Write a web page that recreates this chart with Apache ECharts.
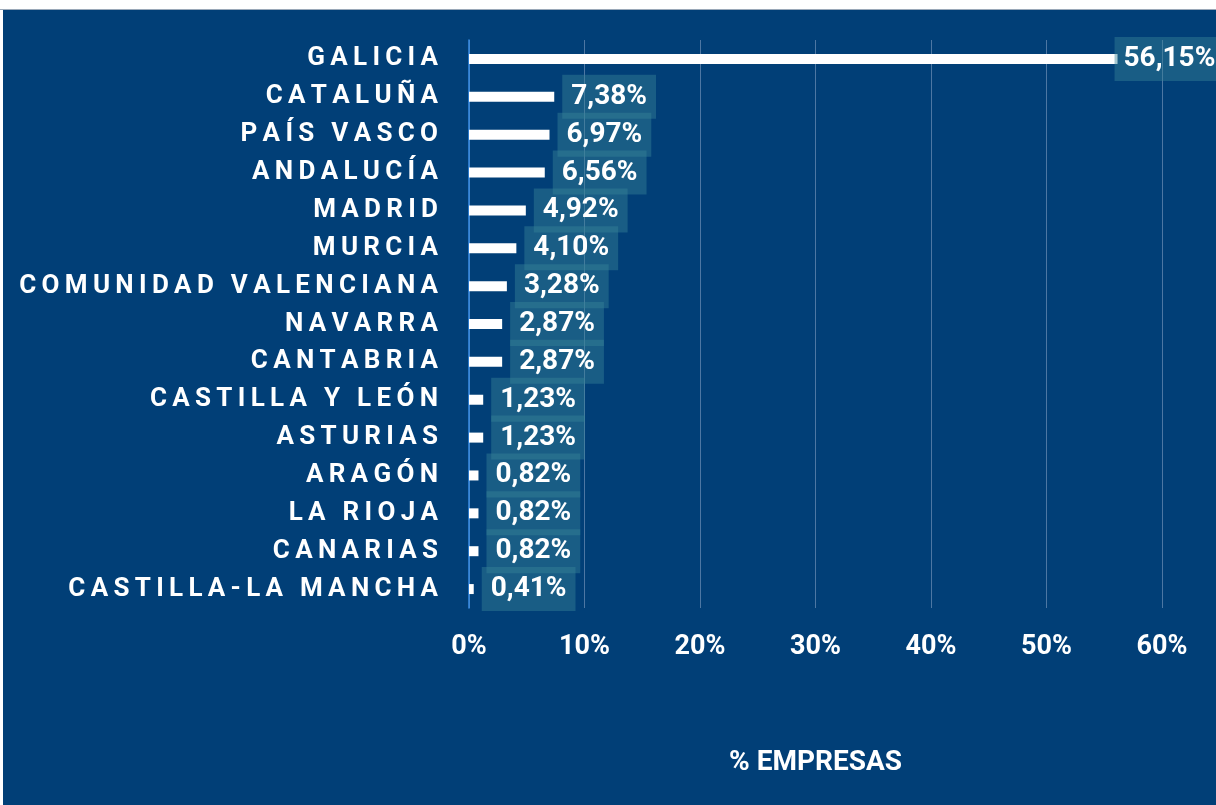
<!DOCTYPE html>
<html>
<head>
<meta charset="utf-8">
<script src="https://cdn.jsdelivr.net/npm/echarts@6/dist/echarts.min.js"></script>
<style>
  html, body { margin: 0; padding: 0; background: #fff; }
  #chart { width: 1216px; height: 805px; }
</style>
</head>
<body>
<div id="chart"></div>
<script>
// regiones y % de empresas
var regiones = ['GALICIA', 'CATALUÑA', 'PAÍS VASCO', 'ANDALUCÍA', 'MADRID', 'MURCIA',
  'COMUNIDAD VALENCIANA', 'NAVARRA', 'CANTABRIA', 'CASTILLA Y LEÓN', 'ASTURIAS',
  'ARAGÓN', 'LA RIOJA', 'CANARIAS', 'CASTILLA-LA MANCHA'];
var porcentajes = [56.15, 7.38, 6.97, 6.56, 4.92, 4.10, 3.28, 2.87, 2.87, 1.23, 1.23, 0.82, 0.82, 0.82, 0.41];
var ejeMax = 60;
var ejeIntervalo = 10;

var fondo = '#013f77';
var fuente = 'Roboto, "DejaVu Sans", sans-serif';

// espaciado entre letras (la etiqueta original va espaciada)
function espaciar(s) {
  return s.split('').join('\u2009');
}

var datos = porcentajes.map(function (v, i) {
  var item = { value: v };
  // la primera etiqueta se sale por la derecha, se pega a la barra
  if (i === 0) item.label = { distance: -3 };
  return item;
});

var chart = echarts.init(document.getElementById('chart'));
var option = {
  backgroundColor: fondo,
  animation: false,
  graphic: [
    { type: 'rect', left: 0, top: 0, shape: { width: 1216, height: 9 }, style: { fill: '#ffffff' }, z: 100 },
    { type: 'rect', left: 0, top: 0, shape: { width: 3, height: 805 }, style: { fill: '#ffffff' }, z: 100 },
    { type: 'rect', left: 0, top: 9, shape: { width: 1216, height: 1 }, style: { fill: '#9aa8b8' }, z: 100 }
  ],
  grid: {
    left: 469,
    right: 54,
    top: 40,
    bottom: 197
  },
  xAxis: {
    type: 'value',
    min: 0,
    max: ejeMax,
    interval: ejeIntervalo,
    name: '% EMPRESAS',
    nameLocation: 'middle',
    nameGap: 141,
    nameTextStyle: { color: '#fff', fontSize: 28, fontWeight: 'bold', fontFamily: fuente },
    axisLine: { show: false },
    axisTick: { show: false },
    axisLabel: {
      color: '#fff',
      fontSize: 27,
      fontWeight: 'bold',
      fontFamily: fuente,
      margin: 26,
      formatter: function (v) { return v + '%'; }
    },
    splitLine: { show: true, lineStyle: { color: 'rgba(140,165,200,0.55)', width: 1 } }
  },
  yAxis: {
    type: 'category',
    inverse: true,
    data: regiones,
    axisLine: { show: true, lineStyle: { color: '#3a8ee6', width: 1.5 } },
    axisTick: { show: false },
    axisLabel: {
      color: '#fff',
      fontSize: 26,
      fontWeight: 'bold',
      fontFamily: fuente,
      margin: 31,
      padding: [6, 0, 0, 0],
      formatter: function (v) { return espaciar(v); }
    }
  },
  series: [
    {
      type: 'bar',
      data: datos,
      barWidth: 10,
      itemStyle: { color: '#ffffff' },
      label: {
        show: true,
        position: 'right',
        distance: 8,
        color: '#fff',
        fontSize: 28,
        fontWeight: 'bold',
        fontFamily: fuente,
        lineHeight: 28,
        padding: [9, 9, 7, 9],
        backgroundColor: 'rgba(55,130,150,0.45)',
        formatter: function (p) { return p.value.toFixed(2).replace('.', ',') + '%'; }
      }
    }
  ]
};
chart.setOption(option);
</script>
</body>
</html>
